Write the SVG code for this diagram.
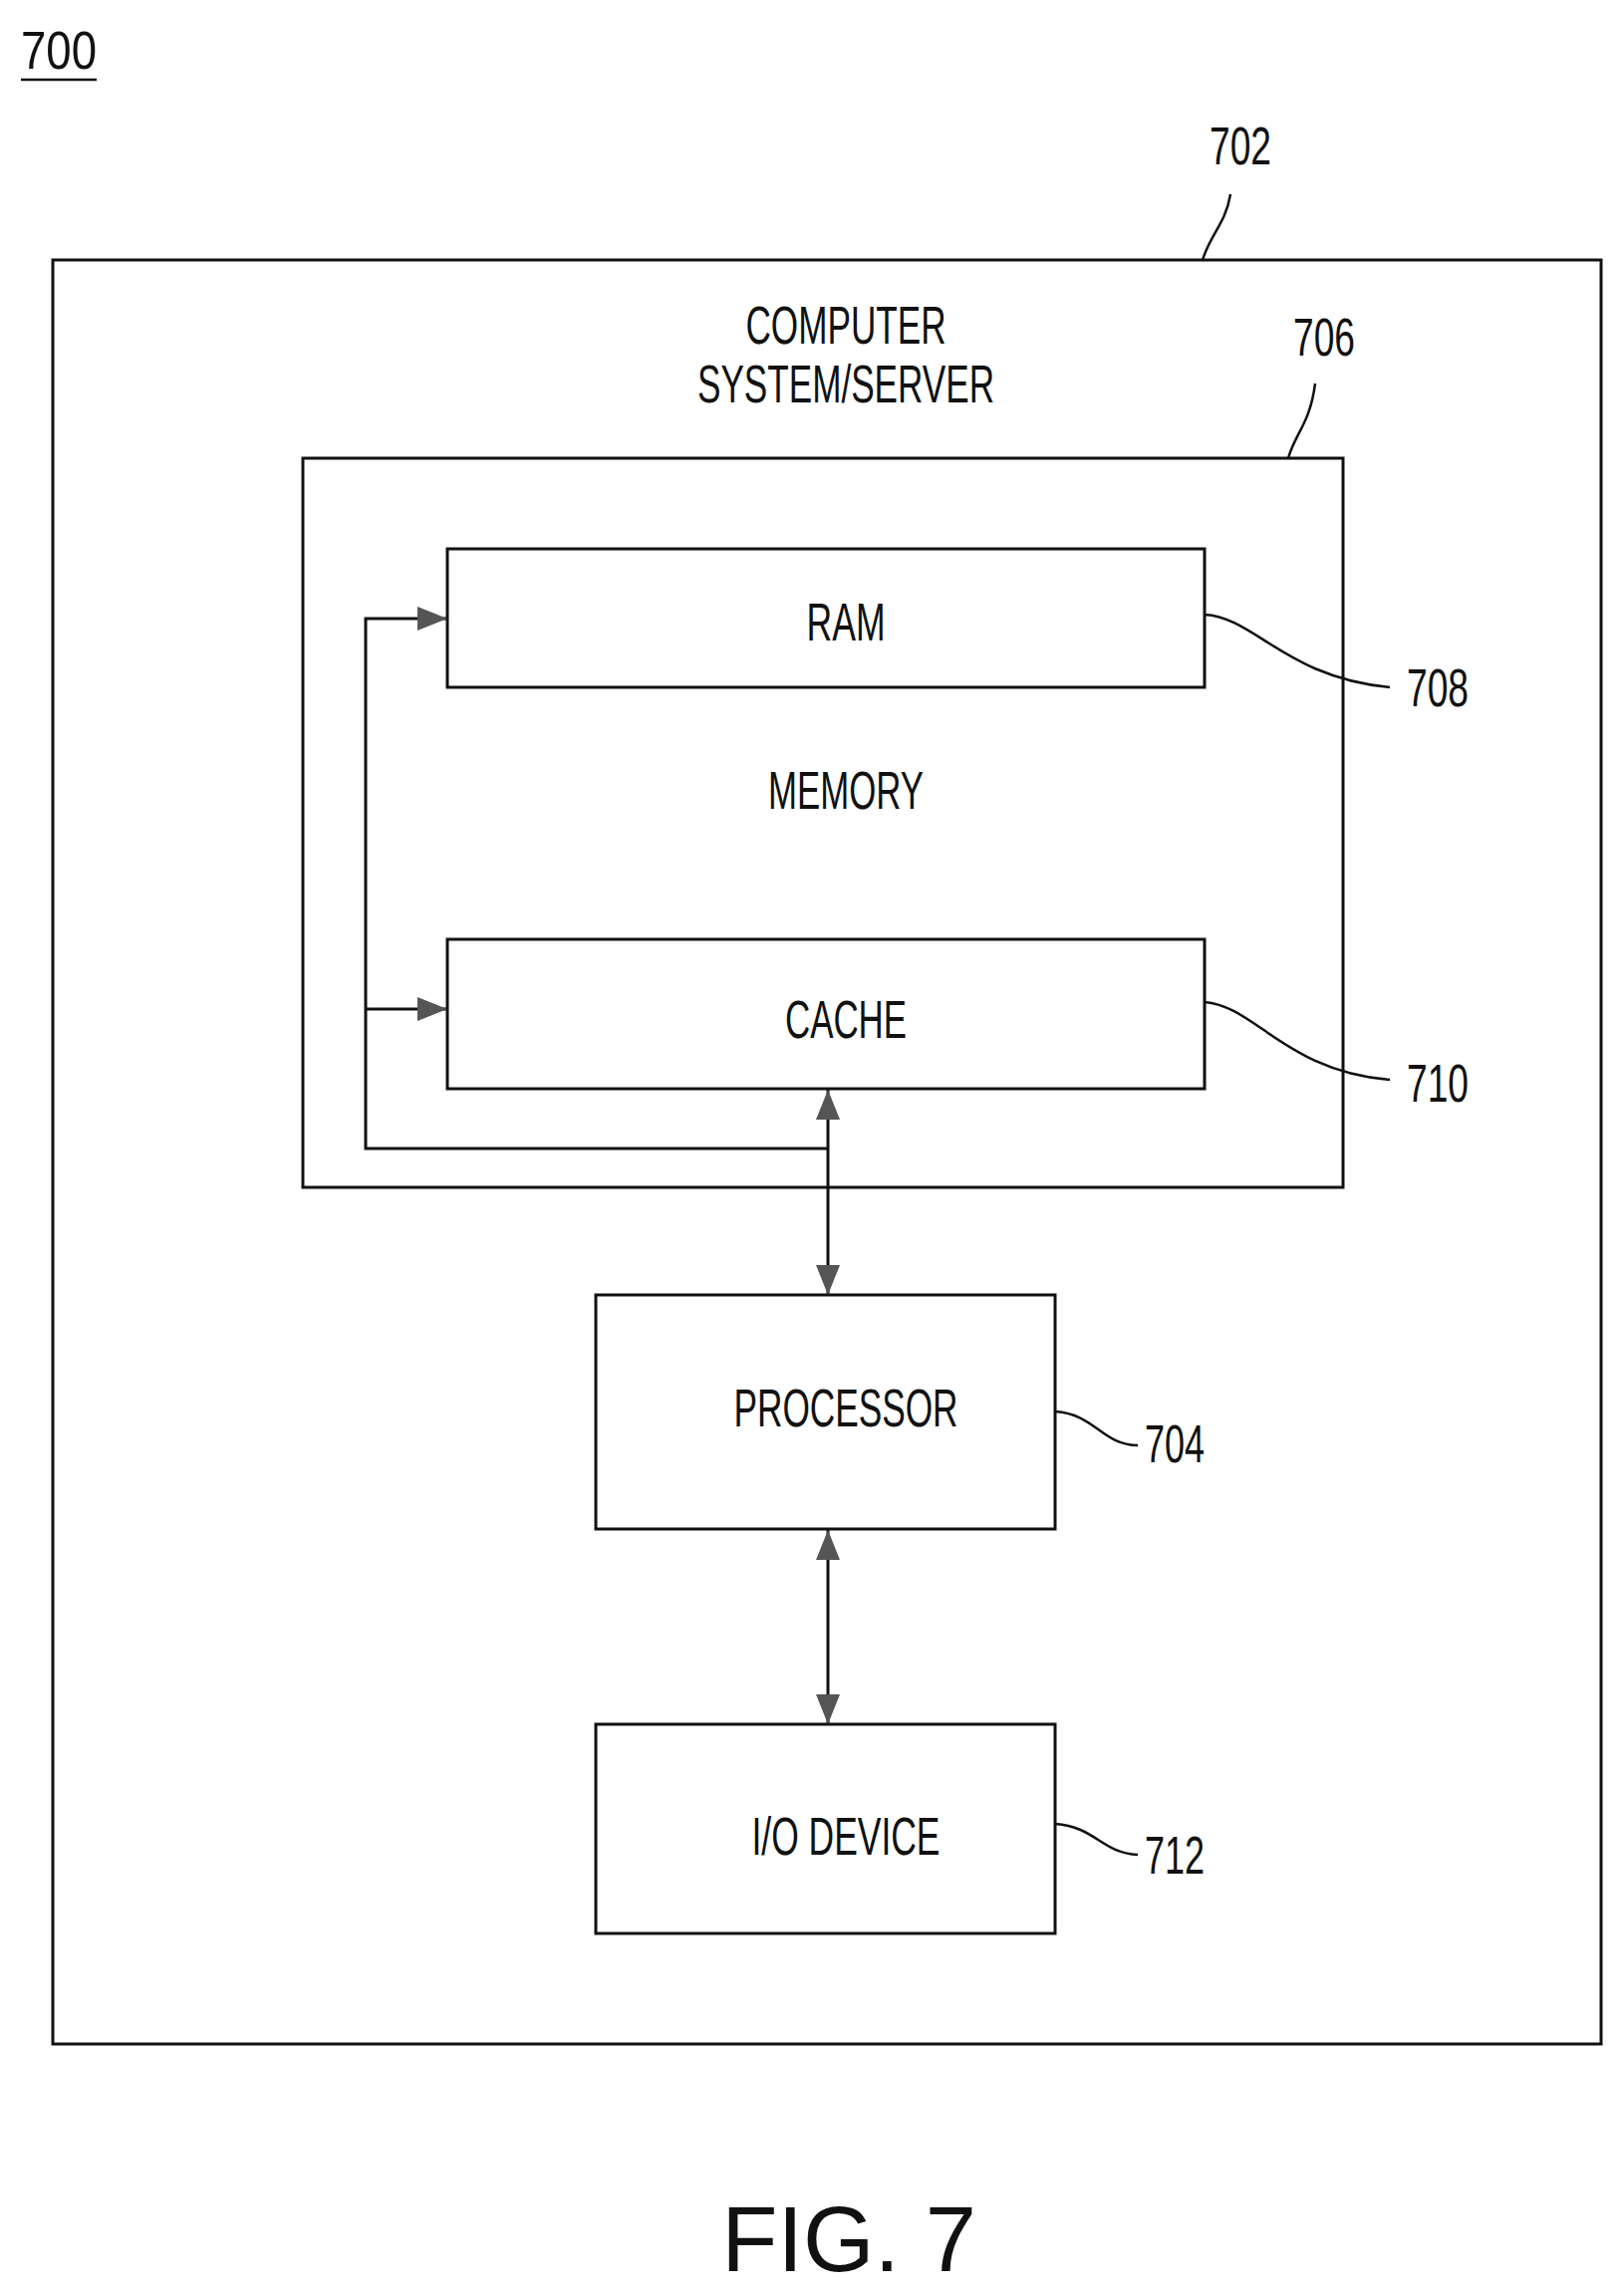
<svg xmlns="http://www.w3.org/2000/svg" width="1630" height="2305" viewBox="0 0 1630 2305">
<style>
.b{fill:none;stroke:#111;stroke-width:3}
.t{font-family:"Liberation Sans",Arial,sans-serif;font-size:54px;fill:#111;text-anchor:middle}
.l{fill:none;stroke:#111;stroke-width:2.5}
</style>
<defs>
<marker id="a" refX="30" refY="12" markerWidth="30" markerHeight="24" markerUnits="userSpaceOnUse" orient="auto-start-reverse"><path d="M0,0L30,12L0,24z" fill="#555"/></marker>
</defs>
<rect width="1630" height="2305" fill="#fff"/>
<g id="fig700"><text x="59" y="69" class="t" textLength="76" lengthAdjust="spacingAndGlyphs">700</text><line x1="21" y1="80" x2="97" y2="80" class="l"/></g>
<g id="n702"><rect x="53" y="261" width="1554" height="1791" class="b"/><text x="849" y="345" class="t" textLength="201" lengthAdjust="spacingAndGlyphs">COMPUTER</text><text x="849" y="404" class="t" textLength="298" lengthAdjust="spacingAndGlyphs">SYSTEM/SERVER</text><text x="1245" y="165" class="t" textLength="62" lengthAdjust="spacingAndGlyphs">702</text><path d="M1207,261 C1215,235 1230,225 1235,195" class="l"/></g>
<g id="n706"><rect x="304" y="460" width="1044" height="732" class="b"/><text x="849" y="812" class="t" textLength="156" lengthAdjust="spacingAndGlyphs">MEMORY</text><text x="1329" y="357" class="t" textLength="62" lengthAdjust="spacingAndGlyphs">706</text><path d="M1293,460 C1300,435 1315,425 1320,385" class="l"/></g>
<g id="n708"><rect x="449" y="551" width="760" height="139" class="b"/><text x="849" y="643" class="t" textLength="79" lengthAdjust="spacingAndGlyphs">RAM</text><text x="1443" y="709" class="t" textLength="62" lengthAdjust="spacingAndGlyphs">708</text><path d="M1209,617 C1260,620 1290,680 1395,690" class="l"/></g>
<g id="n710"><rect x="449" y="943" width="760" height="150" class="b"/><text x="849" y="1042" class="t" textLength="122" lengthAdjust="spacingAndGlyphs">CACHE</text><text x="1443" y="1106" class="t" textLength="62" lengthAdjust="spacingAndGlyphs">710</text><path d="M1209,1006 C1260,1010 1290,1075 1395,1084" class="l"/></g>
<g id="n704"><rect x="598" y="1300" width="461" height="235" class="b"/><text x="849" y="1432" class="t" textLength="225" lengthAdjust="spacingAndGlyphs">PROCESSOR</text><text x="1179" y="1468" class="t" textLength="60" lengthAdjust="spacingAndGlyphs">704</text><path d="M1059,1417 C1100,1420 1105,1450 1142,1451" class="l"/></g>
<g id="n712"><rect x="598" y="1731" width="461" height="210" class="b"/><text x="849" y="1862" class="t" textLength="189" lengthAdjust="spacingAndGlyphs">I/O DEVICE</text><text x="1179" y="1881" class="t" textLength="60" lengthAdjust="spacingAndGlyphs">712</text><path d="M1059,1831 C1100,1834 1105,1860 1142,1862" class="l"/></g>
<g id="connectors">
<path d="M831,1153 H367 V621 H449" class="b" marker-end="url(#a)"/>
<path d="M367,1013 H449" class="b" marker-end="url(#a)"/>
<path d="M831,1094 V1300" class="b" marker-start="url(#a)" marker-end="url(#a)"/>
<path d="M831,1536 V1731" class="b" marker-start="url(#a)" marker-end="url(#a)"/>
</g>
<text x="852" y="2280" style="font-family:'Liberation Sans',Arial,sans-serif;font-size:92px;fill:#111;text-anchor:middle">FIG. 7</text>
</svg>
